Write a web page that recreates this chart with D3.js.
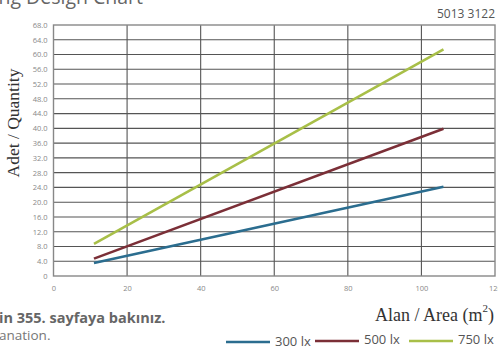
<!DOCTYPE html>
<html><head><meta charset="utf-8">
<script src="https://cdn.jsdelivr.net/npm/d3@7"></script>
<style>body{margin:0;background:#fff;overflow:hidden}svg{display:block}</style>
</head><body>
<script>
const areas = [11, 106];
const series = [
  {name: "300 lx", color: "#2b6d8f", values: [3.5, 24.2]},
  {name: "500 lx", color: "#7b2f37", values: [4.7, 39.9]},
  {name: "750 lx", color: "#a8bf48", values: [8.7, 61.4]}
];
const yTicks = d3.range(0, 69, 4);
const xTicks = [0, 20, 40, 60, 80, 100, 120];

const W = 498, H = 353;
const svg = d3.select("body").append("svg").attr("width", W).attr("height", H);
const x = d3.scaleLinear().domain([0, 120]).range([53.5, 495]);
const y = d3.scaleLinear().domain([0, 68]).range([276, 25]);

// title (clipped)
svg.append("text").attr("x", 143).attr("y", 4).attr("text-anchor", "end")
  .attr("font-family", "Open Sans").attr("font-size", 19.5).attr("fill", "#666")
  .text("Lighting Design Chart");
svg.append("text").attr("x", 495).attr("y", 18).attr("text-anchor", "end")
  .attr("font-family", "Open Sans").attr("font-size", 12).attr("fill", "#555")
  .text("5013 3122");

// grid
const g = svg.append("g");
g.selectAll(".hy").data(yTicks.slice(1, -1)).join("line")
  .attr("x1", x(0)).attr("x2", x(120)).attr("y1", d => y(d)).attr("y2", d => y(d))
  .attr("stroke", "#555").attr("stroke-width", 1.1);
g.selectAll(".vx").data(xTicks.slice(1, -1)).join("line")
  .attr("y1", y(0)).attr("y2", y(68)).attr("x1", d => x(d)).attr("x2", d => x(d))
  .attr("stroke", "#555").attr("stroke-width", 1.1);
g.append("rect").attr("x", x(0)).attr("y", y(68)).attr("width", x(120) - x(0)).attr("height", y(0) - y(68))
  .attr("fill", "none").attr("stroke", "#888").attr("stroke-width", 1.4);

// axes labels
const yAxis = d3.axisLeft(y).tickValues(yTicks).tickSize(0).tickPadding(6)
  .tickFormat(d => d === 0 ? "0" : d3.format(".1f")(d));
const ya = svg.append("g").attr("transform", `translate(${x(0)},0)`).call(yAxis);
ya.select(".domain").remove();
ya.selectAll("text").attr("font-family", "Open Sans").attr("font-size", 7.5).attr("fill", "#888");

const xAxis = d3.axisBottom(x).tickValues(xTicks).tickSize(0).tickPadding(10).tickFormat(d3.format("d"));
const xa = svg.append("g").attr("transform", `translate(0,${y(0)})`).call(xAxis);
xa.select(".domain").remove();
xa.selectAll("text").attr("font-family", "Open Sans").attr("font-size", 7.5).attr("fill", "#888");

// lines
const line = d3.line().x((d, i) => x(areas[i])).y(d => y(d));
svg.selectAll(".series").data(series).join("path")
  .attr("d", d => line(d.values)).attr("fill", "none")
  .attr("stroke", d => d.color).attr("stroke-width", 2.6);

// axis titles
svg.append("text").attr("transform", "translate(19,123) rotate(-90)").attr("text-anchor", "middle")
  .attr("font-family", "Liberation Serif").attr("font-size", 17.5).attr("fill", "#333")
  .text("Adet / Quantity");
const xt = svg.append("text").attr("x", 494).attr("y", 321).attr("text-anchor", "end")
  .attr("font-family", "Liberation Serif").attr("font-size", 18).attr("fill", "#333");
xt.append("tspan").text("Alan / Area (m");
xt.append("tspan").attr("dy", -9).attr("font-size", 11).text("2");
xt.append("tspan").attr("dy", 9).text(")");

// footnote
svg.append("text").attr("x", -1).attr("y", 323).attr("font-family", "Open Sans").attr("font-weight", "bold")
  .attr("font-size", 14.5).attr("fill", "#666").text("in 355. sayfaya bakınız.");
svg.append("text").attr("x", -1).attr("y", 340).attr("font-family", "Open Sans")
  .attr("font-size", 13.5).attr("fill", "#777").text("anation.");

// legend
const legX = [226, 315, 409];
const legY = [342, 341, 341];
const lg = svg.selectAll(".leg").data(series).join("g");
lg.append("line").attr("x1", (d, i) => legX[i]).attr("x2", (d, i) => legX[i] + 44)
  .attr("y1", (d, i) => legY[i]).attr("y2", (d, i) => legY[i])
  .attr("stroke", d => d.color).attr("stroke-width", 2.6);
lg.append("text").attr("x", (d, i) => legX[i] + 49).attr("y", (d, i) => [346, 344, 344][i])
  .attr("font-family", "Open Sans").attr("font-size", 13).attr("fill", "#555").text(d => d.name);
</script>
</body></html>
